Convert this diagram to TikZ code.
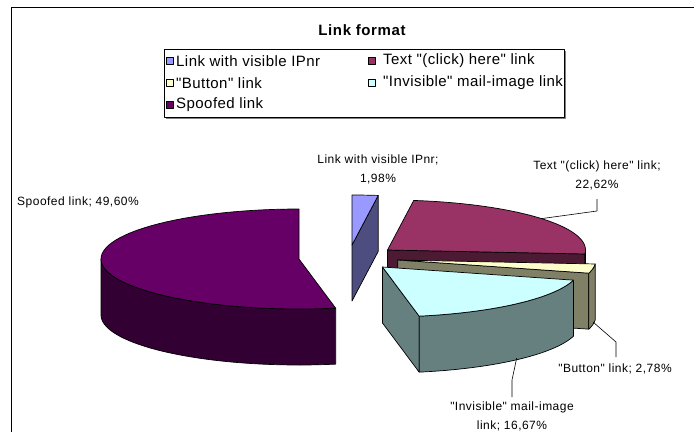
\documentclass[tikz,border=0pt]{standalone}
\usepackage{fontspec}
\newfontfamily\lf[LetterSpace=4]{Liberation Sans}
\newfontfamily\lfleg[LetterSpace=3]{Liberation Sans}
\definecolor{ipTop}{HTML}{9999FF}\definecolor{ipSide}{HTML}{4D4D80}
\definecolor{txTop}{HTML}{993366}\definecolor{txSide}{HTML}{4D1A33}
\definecolor{btTop}{HTML}{FFFFCC}\definecolor{btSide}{HTML}{808066}
\definecolor{inTop}{HTML}{CCFFFF}\definecolor{inSide}{HTML}{668080}
\definecolor{spTop}{HTML}{660066}\definecolor{spSide}{HTML}{330033}
\def\RX{198}\def\RY{50}\def\HH{56}
\newcommand\pieTop[5]{\filldraw[edge,fill=#5] (#1,#2) -- plot[domain=#3:#4,samples=60] ({#1+\RX*sin(\x)},{#2-\RY*cos(\x)}) -- cycle;}
\newcommand\pieSide[5]{\filldraw[edge,fill=#5] plot[domain=#3:#4,samples=40] ({#1+\RX*sin(\x)},{#2-\RY*cos(\x)}) -- plot[domain=#4:#3,samples=40] ({#1+\RX*sin(\x)},{#2+\HH-\RY*cos(\x)}) -- cycle;}
\newcommand\pieCut[4]{\filldraw[edge,fill=#4] (#1,#2) -- ({#1+\RX*sin(#3)},{#2-\RY*cos(#3)}) -- ({#1+\RX*sin(#3)},{#2+\HH-\RY*cos(#3)}) -- (#1,{#2+\HH}) -- cycle;}
\begin{document}
\begin{tikzpicture}[x=1pt,y=-1pt,line join=round,
  edge/.style={draw=black,line width=0.7pt},
  lbl/.style={font=\lf\fontsize{12}{19}\selectfont,align=center,inner sep=0pt},
  leg/.style={font=\lfleg\fontsize{15}{18}\selectfont,anchor=west,inner sep=0pt},
  leader/.style={draw=black,line width=0.6pt},
  swatch/.style={draw=black,line width=0.5pt,minimum size=7pt,inner sep=0pt}]
\useasboundingbox (0,0) rectangle (694,432);
% frame
\draw[line width=0.8pt] (11,432) -- (11,7) -- (694,7);
% title
\node[font=\lf\bfseries\fontsize{15}{18}\selectfont,inner sep=0pt] (title) at (362,30) {Link format};
% legend
\fill[black!50] (166,51) rectangle (566,119);
\node[draw=black,line width=0.8pt,fill=white,minimum width=400pt,minimum height=68pt,inner sep=0pt] (legend) at (364,83) {};
\node[swatch,fill=ipTop] (s1) at (169.5,61) {};
\node[leg] (t1) at (176,61) {Link with visible IPnr};
\node[swatch,fill=txTop] (s2) at (371.5,61) {};
\node[leg] (t2) at (383,61) {Text "(click) here" link};
\node[swatch,fill=btTop] (s3) at (169.5,83) {};
\node[leg] (t3) at (176,83) {"Button" link};
\node[swatch,fill=inTop] (s4) at (371.5,83) {};
\node[leg] (t4) at (383,83) {"Invisible" mail-image link};
\node[swatch,fill=spTop] (s5) at (169.5,105) {};
\node[leg] (t5) at (176,105) {Spoofed link};
% spoofed
\pieSide{299}{259}{169.33}{270}{spSide}
\pieTop{299}{259}{169.33}{360}{spTop}
% IPnr
\pieCut{352}{245}{7.61}{ipSide}
\pieTop{352}{245}{0}{7.61}{ipTop}
% text
\pieCut{387.5}{250}{94.56}{txSide}
\pieSide{387.5}{250}{90}{94.56}{txSide}
\pieTop{387.5}{250}{7.61}{94.56}{txTop}
% button
\pieCut{397.8}{260}{105.25}{btSide}
\pieSide{397.8}{260}{94.56}{105.25}{btSide}
\pieTop{397.8}{260}{94.56}{105.25}{btTop}
% invisible
\pieCut{382.5}{267}{169.33}{inSide}
\pieSide{382.5}{267}{105.25}{169.33}{inSide}
\pieTop{382.5}{267}{105.25}{169.33}{inTop}
% labels
\node[lbl] (lIP) at (378,169.5) {Link with visible IPnr;\\1,98\%};
\node[lbl] (lTX) at (597,175.5) {Text "(click) here" link;\\22,62\%};
\node[lbl] (lBT) at (615,369) {"Button" link; 2,78\%};
\node[lbl] (lIN) at (512,416.5) {"Invisible" mail-image\\link; 16,67\%};
\node[lbl,anchor=east] (lSP) at (139,202) {Spoofed link; 49,60\%};
% leaders
\coordinate (aTX) at (597,199); \coordinate (bTX) at (597,211); \coordinate (cTX) at (541.6,218.6);
\coordinate (aBT) at (616,357); \coordinate (bBT) at (616,342); \coordinate (cBT) at (593,322);
\coordinate (aIN) at (512,397); \coordinate (bIN) at (512,380); \coordinate (cIN) at (516.7,358);
\draw[leader] (aTX) -- (bTX) -- (cTX);
\draw[leader] (aBT) -- (bBT) -- (cBT);
\draw[leader] (aIN) -- (bIN) -- (cIN);
\end{tikzpicture}
\end{document}
